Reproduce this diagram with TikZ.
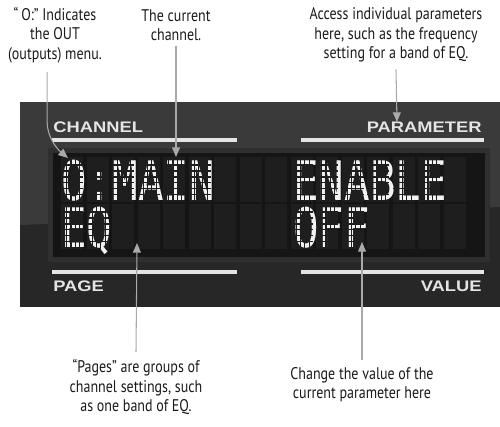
\documentclass[tikz,border=0pt]{standalone}
\usepackage{fontspec}
\setmainfont{PT Sans}[FakeStretch=0.83]
\newfontfamily\panelfont{Liberation Sans}[FakeStretch=1.2]
\newfontfamily\lcdfont{DejaVu Sans Mono}[FakeStretch=0.78]
\usetikzlibrary{arrows.meta}

\definecolor{panelhi}{HTML}{3A3A3A}
\definecolor{panello}{HTML}{272727}
\definecolor{lcdrim}{HTML}{2F2F2F}
\definecolor{lcdbg}{HTML}{151515}
\definecolor{lcdcell}{HTML}{1E1E1E}
\definecolor{lcddot}{HTML}{F2F2F2}
\definecolor{callgray}{HTML}{A9A9A9}
\definecolor{notetext}{HTML}{1A1A1A}
\definecolor{labelwhite}{HTML}{E4E4E4}

\tikzset{
  note/.style={align=center, inner sep=0pt, text=notetext,
    font=\fontsize{9.6}{11}\selectfont},
  panellabel/.style={inner sep=0pt, text=labelwhite,
    font=\panelfont\bfseries\fontsize{8.7}{8.7}\selectfont},
  lcd/.style={inner sep=0pt, anchor=base west, text=lcddot, align=left,
    font=\lcdfont\fontsize{31}{26.65}\selectfont},
  callout/.style={draw=callgray, line width=0.6pt,
    -{Triangle[length=5.5pt,width=4.5pt]}},
  rule/.style={draw=labelwhite, line width=2pt},
}

\begin{document}
\begin{tikzpicture}[x=0.02cm, y=-0.02cm]
\useasboundingbox (0,0) rectangle (500,426);

% panel
\fill[panello] (20,102) rectangle (500,307);
\fill[panelhi] (20,102) -- (500,102) -- (500,207) -- (20,225) -- cycle;

% lcd window
\fill[lcdrim] (48,148) rectangle (490,262);
\fill[lcdbg] (53,153) rectangle (485,257);
\foreach \r in {0,1}
  \foreach \c in {0,...,15}
    \fill[lcdcell] ({61+\c*25.5},{157+\r*47}) rectangle +(22,45);

% lcd text (base is the second row)
\node[lcd] (chanpage) at (61,247) {O:MAIN\\EQ};
\node[lcd] (paramval) at (293,247) {ENABLE\\OFF};

% dot gaps, kept inside each cell
\foreach \r in {0,1}
  \foreach \c in {0,...,15} {
    \foreach \k in {1,...,6}
      \draw[lcdcell, line width=0.7pt] ({61+\c*25.5},{160+\r*47+\k*5.9-0.8}) -- ++(22,0);
    \foreach \j in {1,...,4}
      \draw[lcdcell, line width=0.6pt] ({63+\c*25.5+\j*4.3-0.6},{157+\r*47}) -- ++(0,45);
  }

% labels and rules
\draw[rule] (52,140) -- (237,140);
\draw[rule] (301,140) -- (484,140);
\draw[rule] (52,272) -- (237,272);
\draw[rule] (301,272) -- (484,272);
\node[panellabel, anchor=base west] (chanlbl) at (53,132.7) {CHANNEL};
\node[panellabel, anchor=base east] (paramlbl) at (482,132.7) {PARAMETER};
\node[panellabel, anchor=base west] (pagelbl) at (53,291.7) {PAGE};
\node[panellabel, anchor=base east] (vallbl) at (482,291.7) {VALUE};

% notes
\node[note] (outnote) at (55,35) {“\,O:” Indicates\\the OUT\\(outputs) menu.};
\node[note] (channote) at (176,25) {The current\\channel.};
\node[note] (paramnote) at (396,35) {Access individual parameters\\here, such as the frequency\\setting for a band of EQ.};
\node[note] (pagenote) at (136,387) {“Pages” are groups of\\channel settings, such\\as one band of EQ.};
\node[note] (valnote) at (362,385) {Change the value of the\\current parameter here};

% arrow tips
\coordinate (outtip) at (68,158);
\coordinate (chantip) at (176,157);
\coordinate (paramtip) at (397,122);
\coordinate (pagetip) at (137,243);
\coordinate (valtip) at (362,242);

% callouts
\draw[callout] ([xshift=-4.5pt,yshift=-5pt]outnote.south) -- ++(0,50)
  .. controls +(0,14) and +(-12,-10) .. (outtip);
\draw[callout] ([yshift=-3pt]channote.south) -- (chantip);
\draw[callout] ([yshift=-4pt]paramnote.south) -- (paramtip);
\draw[callout] ([yshift=4pt]pagenote.north) -- (pagetip);
\draw[callout] ([yshift=4pt]valnote.north) -- (valtip);
\end{tikzpicture}
\end{document}
